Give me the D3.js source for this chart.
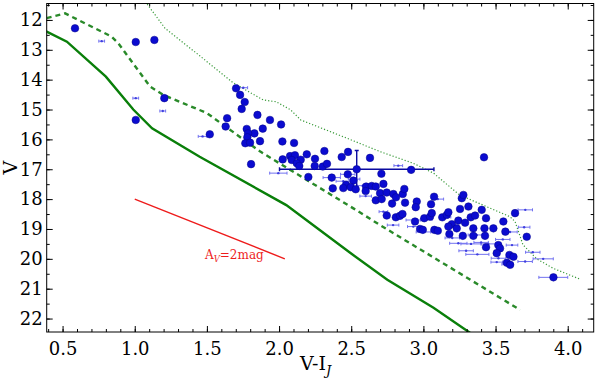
<!DOCTYPE html>
<html><head><meta charset="utf-8">
<script src="https://cdn.jsdelivr.net/npm/d3@7"></script>
<style>body{margin:0;background:#fff}svg{display:block}</style>
</head><body>
<script>
// ---- data ----
const xTicks = [0.5,1.0,1.5,2.0,2.5,3.0,3.5,4.0];
const yTicks = [12,13,14,15,16,17,18,19,20,21,22];
const solidLine = [[0.30,12.2],[0.39,12.39],[0.53,12.73],[0.80,13.90],[0.99,15.00],[1.12,15.63],[1.45,16.58],[2.05,18.20],[2.49,19.79],[2.75,20.70],[3.07,21.64],[3.36,22.6]];
const dashedLine = [[0.39,11.94],[0.517,11.78],[0.84,12.56],[0.886,12.78],[1.106,14.23],[1.198,14.51],[1.50,15.12],[1.87,16.41],[2.515,18.31],[2.70,18.87],[3.67,21.71]];
const dottedLine = [[1.06,11.3],[1.21,12.28],[1.45,13.2],[1.68,14.1],[1.89,14.68],[1.98,14.74],[2.08,15.01],[2.15,15.35],[2.47,15.96],[2.70,16.41],[2.93,16.8],[3.07,17.13],[3.25,17.86],[3.60,18.59],[3.635,18.75],[3.69,19.53],[3.785,20.0],[3.90,20.32],[4.085,20.68]];
const reddening = [[1.0,18.0],[2.04,20.0]];
const dots = [
[0.586,12.28],[1.007,12.74],[1.136,12.67],[1.205,14.62],[1.007,15.35],
[1.702,14.29],[1.73,14.51],[1.762,14.75],[1.741,14.98],[1.85,15.18],[1.937,15.35],[2.014,15.5],[1.64,15.29],[1.63,15.57],[1.776,15.65],
[1.887,15.64],[1.829,15.8],[1.785,15.8],[1.78,15.93],[1.868,16.06],[1.766,16.13],[1.799,16.11],[1.52,15.83],[2.023,16.07],[2.104,16.12],
[2.314,16.39],[2.192,16.5],[2.076,16.56],[2.11,16.53],[2.025,16.67],[2.088,16.69],[2.15,16.68],[2.249,16.65],[2.123,16.8],[2.14,16.89],
[2.247,16.89],[2.303,16.91],[2.332,16.82],[2.434,16.59],[2.478,16.42],[2.63,16.62],[1.806,16.83],[2.203,17.26],[2.538,17.0],[2.709,17.15],
[2.476,17.17],[2.515,17.38],[2.464,17.52],[2.365,17.28],[2.372,17.64],[2.445,17.63],[2.497,17.6],[2.531,17.67],[2.603,17.58],[2.642,17.56],
[2.67,17.58],[2.723,17.49],[2.6,17.73],[2.70,17.8],[2.746,17.78],[2.792,17.83],[2.81,17.94],[2.67,18.04],[2.711,18.0],[2.783,18.15],
[3.42,16.6],[2.915,17.02],[2.857,17.83],[2.868,17.66],[2.873,18.12],[2.954,18.08],[3.074,17.92],[2.947,18.27],[3.053,18.17],[2.746,18.55],
[2.809,18.61],[2.838,18.56],[2.855,18.5],[2.942,18.75],[3.006,18.64],[3.046,18.59],[3.058,18.47],[3.131,18.61],[3.162,18.53],[3.173,18.44],
[3.076,19.03],[2.977,19.0],[2.996,19.03],[3.10,19.06],[3.266,17.97],[3.277,17.86],[3.254,18.33],[3.312,18.25],[3.404,18.36],[3.328,18.61],
[3.358,18.55],[3.434,18.64],[3.242,18.72],[3.289,18.79],[3.197,18.84],[3.173,18.92],[3.231,18.98],[3.485,18.98],[3.423,18.98],[3.554,18.75],
[3.635,18.47],[3.568,19.09],[3.346,18.98],[3.18,19.17],[3.273,19.23],[3.427,19.23],[3.716,19.26],[3.434,19.61],[3.519,19.54],[3.531,19.65],
[3.508,19.81],[3.596,19.87],[3.624,19.93],[3.578,20.13],[3.601,20.2],[3.901,20.62],[3.346,19.23]
];
// small points with horizontal error bars: [x, V, xerr]
const errPts = [
[0.771,12.71,0.02],[1.007,14.62,0.02],[1.194,15.05,0.02],[1.47,15.9,0.03],[1.995,17.13,0.06],[1.752,14.27,0.03],
[2.365,17.28,0.06],[2.476,17.17,0.05],[2.445,17.4,0.05],[2.52,17.33,0.04],[2.58,17.55,0.04],[2.826,16.88,0.03],
[2.723,18.42,0.03],[2.79,18.87,0.04],[2.93,18.7,0.05],[3.02,18.68,0.04],[3.1,18.0,0.04],[3.15,18.6,0.04],
[3.242,19.48,0.06],[3.296,19.73,0.05],[3.374,19.85,0.08],[3.33,19.5,0.07],[3.40,19.45,0.05],[3.45,19.5,0.05],
[3.698,18.94,0.04],[3.706,18.36,0.05],[3.614,19.54,0.04],[3.52,19.98,0.05],[3.508,20.11,0.04],[3.584,20.18,0.04],
[3.758,19.78,0.05],[3.83,20.0,0.07],[3.705,20.09,0.05],[3.90,20.62,0.1],[2.93,18.92,0.04],[3.0,19.1,0.05],
[3.2,19.3,0.05],[3.55,19.35,0.05],[3.6,19.1,0.05],[3.37,19.2,0.06],[2.6,17.9,0.04],[2.5,17.6,0.05]
];
// one large representative error bar: [x, V, xerr, Verr]
const bigErr = [2.538, 17.0, 0.535, 0.63];

// ---- drawing ----
const W = 600, H = 378;
const pL = 46.7, pR = 593.7, pT = 3.5, pB = 332;
const svg = d3.select("body").append("svg").attr("width", W).attr("height", H);
const x = d3.scaleLinear().domain([0.39, 4.18]).range([pL, pR]);
const y = d3.scaleLinear().domain([11.45, 22.45]).range([pT, pB]);

svg.append("clipPath").attr("id","clip").append("rect")
  .attr("x",pL).attr("y",pT).attr("width",pR-pL).attr("height",pB-pT);
const g = svg.append("g").attr("clip-path","url(#clip)");
const line = d3.line().x(d=>x(d[0])).y(d=>y(d[1]));

g.append("path").datum(dottedLine).attr("d",line).attr("fill","none")
  .attr("stroke","#3a9a3a").attr("stroke-width",1.2).attr("stroke-dasharray","1.2,2");
g.append("path").datum(dashedLine).attr("d",line).attr("fill","none")
  .attr("stroke","#2a8a2a").attr("stroke-width",2.4).attr("stroke-dasharray","5,4");
g.append("path").datum(solidLine).attr("d",line).attr("fill","none")
  .attr("stroke","#0a7f0a").attr("stroke-width",2.4);
g.append("path").datum(reddening).attr("d",line).attr("fill","none")
  .attr("stroke","#ee1c1c").attr("stroke-width",1.4);

// error-bar small points
const ep = g.append("g").attr("stroke","#5a5aee").attr("stroke-width",1).attr("opacity",0.85);
errPts.forEach(d=>{
  const x0=x(d[0]-d[2]), x1=x(d[0]+d[2]), yy=y(d[1]);
  ep.append("line").attr("x1",x0).attr("x2",x1).attr("y1",yy).attr("y2",yy);
  ep.append("line").attr("x1",x0).attr("x2",x0).attr("y1",yy-1.5).attr("y2",yy+1.5);
  ep.append("line").attr("x1",x1).attr("x2",x1).attr("y1",yy-1.5).attr("y2",yy+1.5);
});
g.append("g").selectAll("circle").data(errPts).join("circle")
  .attr("cx",d=>x(d[0])).attr("cy",d=>y(d[1])).attr("r",1.2).attr("fill","#4040e0");

// big error bar
const be = g.append("g").attr("stroke","#0b0ba0").attr("stroke-width",1.4);
be.append("line").attr("x1",x(bigErr[0]-bigErr[2])).attr("x2",x(bigErr[0]+bigErr[2])).attr("y1",y(bigErr[1])).attr("y2",y(bigErr[1]));
be.append("line").attr("x1",x(bigErr[0])).attr("x2",x(bigErr[0])).attr("y1",y(bigErr[1]-bigErr[3])).attr("y2",y(bigErr[1]+bigErr[3]));
[bigErr[0]-bigErr[2], bigErr[0]+bigErr[2]].forEach(v=>{
  be.append("line").attr("x1",x(v)).attr("x2",x(v)).attr("y1",y(bigErr[1])-2).attr("y2",y(bigErr[1])+2);
});
[bigErr[1]-bigErr[3], bigErr[1]+bigErr[3]].forEach(v=>{
  be.append("line").attr("x1",x(bigErr[0])-2).attr("x2",x(bigErr[0])+2).attr("y1",y(v)).attr("y2",y(v));
});

// dots
g.append("g").selectAll("circle").data(dots).join("circle")
  .attr("cx",d=>x(d[0])).attr("cy",d=>y(d[1])).attr("r",3.8)
  .attr("fill","#0b0bd0").attr("stroke","#06068a").attr("stroke-width",0.5);

// frame
svg.append("rect").attr("x",pL).attr("y",pT).attr("width",pR-pL).attr("height",pB-pT)
  .attr("fill","none").attr("stroke","#000").attr("stroke-width",1);

// ticks (inward on all sides)
const font = "DejaVu Serif";
const xMinor = d3.range(4,42).map(v=>v/10).filter(v=>v>0.39&&v<4.18);
const yMinor = d3.range(23,45).map(v=>v/2).filter(v=>v>11.45&&v<22.45);
svg.append("g").attr("transform",`translate(0,${pB})`)
  .call(d3.axisBottom(x).tickValues(xTicks).tickSize(-6).tickPadding(10).tickFormat(d3.format(".1f")));
svg.append("g").attr("transform",`translate(0,${pT})`)
  .call(d3.axisTop(x).tickValues(xTicks).tickSize(-6).tickFormat(""));
svg.append("g").attr("transform",`translate(${pL},0)`)
  .call(d3.axisLeft(y).tickValues(yTicks).tickSize(-6).tickPadding(4).tickFormat(d3.format("d")));
svg.append("g").attr("transform",`translate(${pR},0)`)
  .call(d3.axisRight(y).tickValues(yTicks).tickSize(-6).tickFormat(""));
svg.append("g").attr("transform",`translate(0,${pB})`).call(d3.axisBottom(x).tickValues(xMinor).tickSize(-3).tickFormat(""));
svg.append("g").attr("transform",`translate(0,${pT})`).call(d3.axisTop(x).tickValues(xMinor).tickSize(-3).tickFormat(""));
svg.append("g").attr("transform",`translate(${pL},0)`).call(d3.axisLeft(y).tickValues(yMinor).tickSize(-3).tickFormat(""));
svg.append("g").attr("transform",`translate(${pR},0)`).call(d3.axisRight(y).tickValues(yMinor).tickSize(-3).tickFormat(""));
svg.selectAll(".domain").remove();
svg.selectAll(".tick text").attr("font-family",font).attr("font-size",18).attr("fill","#000");
svg.selectAll(".tick line").attr("stroke","#000");

// axis labels
svg.append("text").attr("transform",`translate(17,${(pT+pB)/2}) rotate(-90)`)
  .attr("text-anchor","middle").attr("font-family",font).attr("font-size",19).text("V");
const xl = svg.append("text").attr("x",300).attr("y",370).attr("font-family",font).attr("font-size",19);
xl.append("tspan").text("V-I");
xl.append("tspan").attr("font-size",13).attr("font-style","italic").attr("dy",5).text("J");

// reddening label
const al = svg.append("text").attr("x",205).attr("y",259).attr("font-family",font).attr("font-size",12).attr("fill","#ee1c1c");
al.append("tspan").text("A");
al.append("tspan").attr("font-size",8.5).attr("font-style","italic").attr("dy",3).text("V");
al.append("tspan").attr("dy",-3).text("=2mag");
</script>
</body></html>
